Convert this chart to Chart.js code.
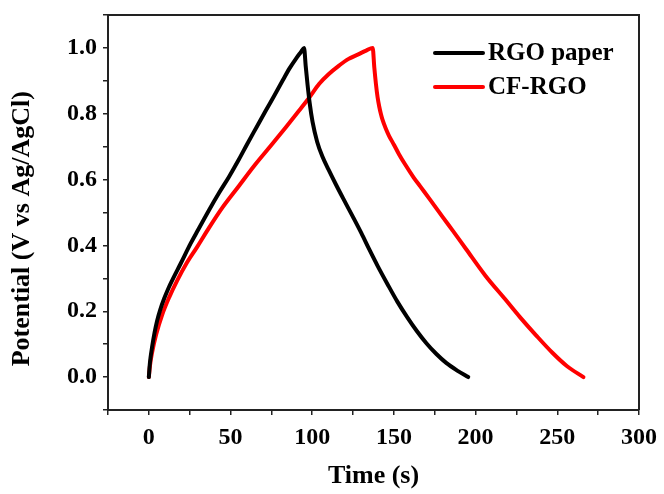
<!DOCTYPE html>
<html>
<head>
<meta charset="utf-8">
<script src="https://cdn.jsdelivr.net/npm/chart.js@4.4.1/dist/chart.umd.min.js"></script>
<style>
html,body{margin:0;padding:0;background:#fff;}
canvas{display:block;}
</style>
</head>
<body>
<canvas id="c" width="664" height="494"></canvas>
<script>
// ---- data ----
const seriesNames = ["RGO paper", "CF-RGO"];

const rgoTime = [0, 0.5, 1, 2, 3.5, 5, 7, 9.5, 12, 14.3, 19.5, 25.6, 30, 36.8, 43, 49, 55, 60.3, 66, 71.6, 77, 81.8, 86, 90, 93, 95,
  96, 97.1, 98.5, 100.2, 103, 106.3, 110, 114.5, 119, 125, 130, 135, 140, 146, 152, 158, 164, 170, 176, 182, 189, 195.5];
const rgoPotential = [0, 0.035, 0.058, 0.092, 0.135, 0.17, 0.205, 0.24, 0.27, 0.294, 0.345, 0.406, 0.446, 0.507, 0.56, 0.608, 0.66, 0.709, 0.76, 0.81, 0.857, 0.9, 0.937, 0.967, 0.987, 1.0,
  0.945, 0.89, 0.83, 0.775, 0.715, 0.669, 0.63, 0.585, 0.542, 0.486, 0.438, 0.387, 0.338, 0.283, 0.23, 0.183, 0.14, 0.102, 0.07, 0.043, 0.019, 0.0];

const cfTime = [0, 0.7, 2, 4.5, 8.2, 12.5, 17.4, 23, 29.5, 37, 45, 55, 65, 75, 84, 92, 98, 104.3, 110, 116.6, 122, 128.8, 133, 137,
  138, 139, 140, 141, 142, 143, 145, 147, 150, 153, 157, 162, 166, 172, 180, 186, 194, 206, 218, 227, 237, 247, 256, 266];
const cfPotential = [0, 0.035, 0.075, 0.13, 0.19, 0.243, 0.294, 0.345, 0.395, 0.455, 0.515, 0.58, 0.645, 0.705, 0.76, 0.81, 0.848, 0.891, 0.92, 0.947, 0.966, 0.982, 0.992, 1.0,
  0.94, 0.89, 0.85, 0.822, 0.80, 0.782, 0.755, 0.733, 0.706, 0.678, 0.645, 0.607, 0.58, 0.54, 0.485, 0.445, 0.39, 0.308, 0.237, 0.183, 0.127, 0.074, 0.033, 0.0];

const xTickLabels = ["0", "50", "100", "150", "200", "250", "300"];
const yTickLabels = ["0.0", "0.2", "0.4", "0.6", "0.8", "1.0"];
const xTitle = "Time (s)";
const yTitle = "Potential (V vs Ag/AgCl)";
const seriesColors = ["#000000", "#ff0000"];

// ---- build ----
function zip(xs, ys){ return xs.map((x,i)=>({x:x, y:ys[i]})); }

const FONT = "'Liberation Serif', 'Times New Roman', serif";

const framePlugin = {
  id: 'frame',
  afterDatasetsDraw(chart){
    const {ctx, chartArea:a} = chart;
    ctx.save();
    ctx.strokeStyle = '#222';
    ctx.lineWidth = 2;
    ctx.beginPath();
    ctx.moveTo(a.left, a.top);
    ctx.lineTo(a.right, a.top);
    ctx.lineTo(a.right, a.bottom);
    ctx.stroke();
    ctx.restore();
  }
};

const legendPlugin = {
  id: 'inlegend',
  afterDraw(chart){
    const {ctx, chartArea:a} = chart;
    ctx.save();
    ctx.font = "bold 25px " + FONT;
    ctx.textBaseline = 'middle';
    ctx.textAlign = 'left';
    chart.data.datasets.forEach((ds, i) => {
      const y = a.top + 38 + i * 34;
      const x0 = a.right - 204;
      ctx.strokeStyle = ds.borderColor;
      ctx.lineWidth = 4;
      ctx.lineCap = 'round';
      ctx.beginPath();
      ctx.moveTo(x0, y);
      ctx.lineTo(x0 + 48, y);
      ctx.stroke();
      ctx.fillStyle = '#000';
      ctx.fillText(ds.label, x0 + 53, y + 1);
    });
    ctx.restore();
  }
};

new Chart(document.getElementById('c'), {
  type: 'line',
  data: {
    datasets: [
      { label: seriesNames[0], data: zip(rgoTime, rgoPotential), borderColor: seriesColors[0], backgroundColor: seriesColors[0] },
      { label: seriesNames[1], data: zip(cfTime, cfPotential), borderColor: seriesColors[1], backgroundColor: seriesColors[1] }
    ]
  },
  options: {
    responsive: false,
    animation: false,
    devicePixelRatio: 1,
    layout: { padding: { left: 0, top: 15, right: 25, bottom: 0 } },
    elements: {
      point: { radius: 0 },
      line: { borderWidth: 4, cubicInterpolationMode: 'monotone', borderJoinStyle: 'round', borderCapStyle: 'round' }
    },
    plugins: { legend: { display: false }, tooltip: { enabled: false } },
    scales: {
      x: {
        type: 'linear',
        min: -25, max: 300,
        afterFit(s){ s.height = 84; s.paddingLeft = 0; s.paddingRight = 0; },
        border: { display: true, color: '#222', width: 2 },
        grid: { display: true, drawOnChartArea: false, drawTicks: true, tickLength: 5, color: '#222', lineWidth: 1.5 },
        ticks: {
          stepSize: 25, autoSkip: false, maxRotation: 0, padding: 8, color: '#000',
          font: { family: FONT, size: 24, weight: 'bold' },
          callback(v){ const s = String(Math.round(v)); return xTickLabels.includes(s) ? s : ''; }
        },
        title: { display: true, text: xTitle, color: '#000', font: { family: FONT, size: 26, weight: 'bold' }, padding: { top: 0, bottom: 2 } }
      },
      y: {
        type: 'linear',
        min: -0.1, max: 1.1,
        afterFit(s){ s.width = 108; s.paddingTop = 0; s.paddingBottom = 0; },
        border: { display: true, color: '#222', width: 2 },
        grid: { display: true, drawOnChartArea: false, drawTicks: true, tickLength: 5, color: '#222', lineWidth: 1.5 },
        ticks: {
          stepSize: 0.1, autoSkip: false, padding: 6, color: '#000',
          font: { family: FONT, size: 24, weight: 'bold' },
          callback(v){ const s = (Math.round(v*10)/10).toFixed(1); return yTickLabels.includes(s) ? s : ''; }
        },
        title: { display: true, text: yTitle + "     ", color: '#000', font: { family: FONT, size: 26, weight: 'bold' }, padding: { top: 7, bottom: 0 } }
      }
    }
  },
  plugins: [framePlugin, legendPlugin]
});
</script>
</body>
</html>
